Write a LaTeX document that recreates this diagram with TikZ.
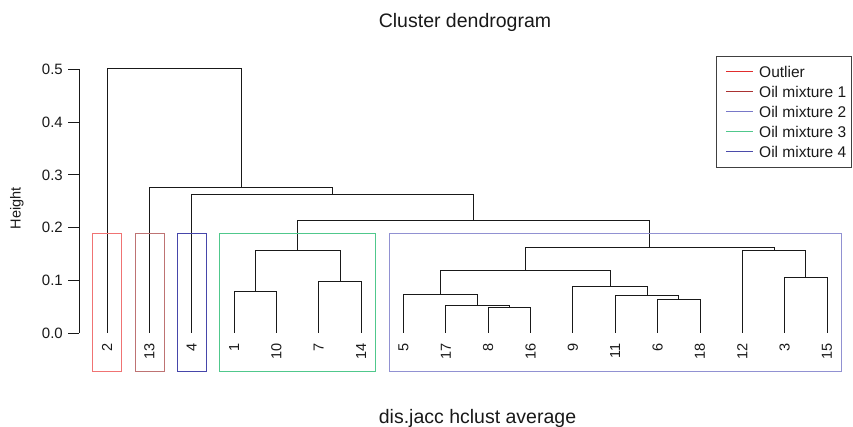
\documentclass[tikz,border=0pt]{standalone}
\usepackage{fontspec}
\setmainfont{Liberation Sans}
\usepackage{tikz}

\definecolor{rojo}{RGB}{225,45,45}
\definecolor{granate}{RGB}{170,50,50}
\definecolor{pizarra}{RGB}{120,120,200}
\definecolor{verde}{RGB}{80,200,140}
\definecolor{azul}{RGB}{75,75,170}
\definecolor{cajaroja}{RGB}{240,115,115}
\definecolor{cajagranate}{RGB}{190,115,115}
\definecolor{cajaazul}{RGB}{70,70,170}
\definecolor{cajaverde}{RGB}{80,200,140}
\definecolor{cajalila}{RGB}{145,145,210}

\begin{document}
\begin{tikzpicture}[x=1pt, y=1pt,
    every node/.style={inner sep=0pt, text=black!90},
    rama/.style={draw=black!90, line width=0.8pt},
    hoja/.style={rotate=90, anchor=east, font=\fontsize{14.5}{16}\selectfont},
    marca/.style={anchor=east, font=\fontsize{15}{18}\selectfont},
    caja/.style={line width=1.3pt}]
    \useasboundingbox (0,0) rectangle (853,427);

    % Titulo y etiquetas de los ejes
    \node[anchor=base, font=\fontsize{19.5}{22}\selectfont] (titulo) at (465,399.7) {Cluster dendrogram};
    \node[anchor=base, font=\fontsize{19.5}{22}\selectfont] (xlab) at (477.5,3) {dis.jacc hclust average};
    \node[anchor=base, rotate=90, font=\fontsize{14.5}{17}\selectfont] (ylab) at (20.7,218.5) {Height};

    \begin{scope}[shift={(0pt,94pt)}, y=527pt]
    % Eje vertical
    \draw[rama] (79,0) -- (79,0.5);
    \foreach \h/\t [count=\i] in {0/0.0,0.1/0.1,0.2/0.2,0.3/0.3,0.4/0.4,0.5/0.5} {
        \draw[rama] (68,\h) -- (79,\h);
        \node[marca] (t\i) at (63,\h) {\t};
    }

    % Hojas (orden del dendrograma)
    \foreach \n/\x in {2/107, 13/149.35, 4/191.7, 1/234.05, 10/276.4, 7/318.75,
                       14/361.1, 5/403.45, 17/445.8, 8/488.15, 16/530.5, 9/572.85,
                       11/615.2, 6/657.55, 18/699.9, 12/742.25, 3/784.6, 15/826.95} {
        \coordinate (h\n) at (\x,0);
        \node[hoja] (l\n) at (\x,-0.02) {\n};
    }

    % Uniones (x en el centro de los hijos, y = altura)
    \coordinate (m1) at (255.2,0.078);
    \coordinate (m2) at (339.9,0.097);
    \coordinate (m3) at (297.6,0.157);
    \coordinate (m4) at (509.3,0.048);
    \coordinate (m5) at (477.6,0.052);
    \coordinate (m6) at (440.5,0.073);
    \coordinate (m7) at (678.7,0.064);
    \coordinate (m8) at (647.0,0.072);
    \coordinate (m9) at (609.9,0.088);
    \coordinate (m10) at (525.2,0.119);
    \coordinate (m11) at (805.8,0.105);
    \coordinate (m12) at (774.0,0.156);
    \coordinate (m13) at (649.6,0.163);
    \coordinate (m14) at (473.6,0.214);
    \coordinate (m15) at (332.6,0.263);
    \coordinate (m16) at (241.0,0.276);
    \coordinate (m17) at (174.0,0.502);

    % Ramas
    \draw[rama] (h1) |- (m1) -| (h10);
    \draw[rama] (h7) |- (m2) -| (h14);
    \draw[rama] (m1) |- (m3) -| (m2);
    \draw[rama] (h8) |- (m4) -| (h16);
    \draw[rama] (h17) |- (m5) -| (m4);
    \draw[rama] (h5) |- (m6) -| (m5);
    \draw[rama] (h6) |- (m7) -| (h18);
    \draw[rama] (h11) |- (m8) -| (m7);
    \draw[rama] (h9) |- (m9) -| (m8);
    \draw[rama] (m6) |- (m10) -| (m9);
    \draw[rama] (h3) |- (m11) -| (h15);
    \draw[rama] (h12) |- (m12) -| (m11);
    \draw[rama] (m10) |- (m13) -| (m12);
    \draw[rama] (m3) |- (m14) -| (m13);
    \draw[rama] (h4) |- (m15) -| (m14);
    \draw[rama] (h13) |- (m16) -| (m15);
    \draw[rama] (h2) |- (m17) -| (m16);
    \end{scope}

    % Cajas de los grupos
    \draw[caja, cajaroja] (92.5,55.5) rectangle (121.5,193.5);
    \draw[caja, cajagranate] (135.5,55.5) rectangle (164.5,193.5);
    \draw[caja, cajaazul] (177.5,55.5) rectangle (206.5,193.5);
    \draw[caja, cajaverde] (219.5,55.5) rectangle (375.5,193.5);
    \draw[caja, cajalila] (389.5,55.5) rectangle (841.5,193.5);

    % Leyenda
    \draw[black!75, line width=0.8pt] (716,260) rectangle (851,371);
    \foreach \t/\c [count=\i] in {Outlier/rojo, Oil mixture 1/granate, Oil mixture 2/pizarra,
                                  Oil mixture 3/verde, Oil mixture 4/azul} {
        \draw[\c, line width=1.3pt] (726,{355.5-(\i-1)*20}) -- (753,{355.5-(\i-1)*20});
        \node[anchor=west, font=\fontsize{15.5}{18}\selectfont] (ley\i) at (759,{355.5-(\i-1)*20}) {\t};
    }
\end{tikzpicture}
\end{document}
